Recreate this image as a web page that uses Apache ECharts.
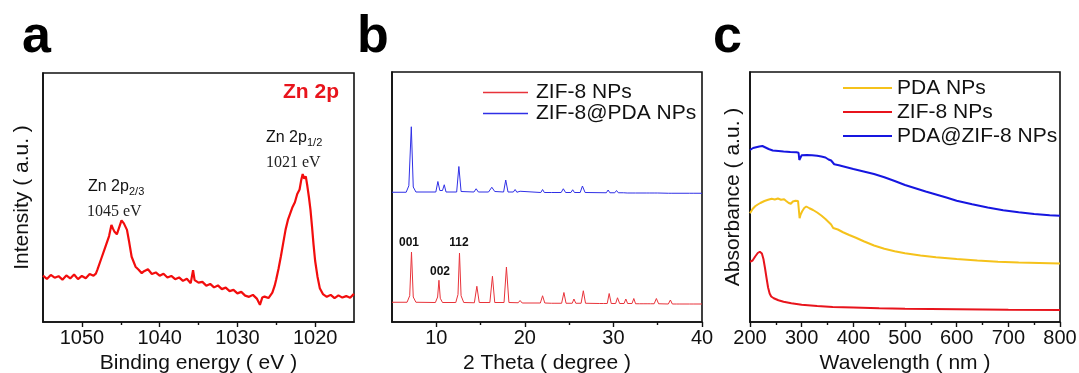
<!DOCTYPE html>
<html>
<head>
<meta charset="utf-8">
<title>Zn 2p / XRD / UV-vis</title>
<script src="https://cdn.jsdelivr.net/npm/echarts@6/dist/echarts.min.js"></script>
<style>
  html, body { margin: 0; padding: 0; background: #fff; }
  #wrap { position: relative; width: 1079px; height: 373px; }
  .panel { position: absolute; top: 0; height: 373px; }
  #pa { left: 0; width: 360px; }
  #pb { left: 360px; width: 366px; }
  #pc { left: 710px; width: 369px; }
</style>
</head>
<body>
<div id="wrap">
  <div id="pa" class="panel"></div>
  <div id="pb" class="panel"></div>
  <div id="pc" class="panel"></div>
</div>
<script>
// ---- data: (a) XPS Zn 2p, [binding energy eV, intensity a.u.]
const xpsTicks = [1020, 1030, 1040, 1050];
const xpsMinor = [1025, 1035, 1045];
const znSpectrum = [
  [1055, 18.6], [1054.5, 17.3], [1054, 18.9], [1053.5, 17.8], [1053, 18.4], [1052.5, 17.0],
  [1052, 18.7], [1051.5, 17.5], [1051, 19.1], [1050.5, 17.2], [1050, 18.5], [1049.5, 17.6],
  [1049, 19.3], [1048.5, 18.6], [1048.2, 19.4], [1048, 21.0], [1047.5, 25.5], [1047, 30.0],
  [1046.5, 34.5], [1046.2, 39.0], [1046, 37.5], [1045.8, 36.2], [1045.5, 35.2], [1045.2, 38.0],
  [1044.9, 40.8], [1044.6, 39.6], [1044.2, 37.0], [1043.9, 31.8], [1043.6, 26.2], [1043.1, 22.2],
  [1042.7, 21.0], [1042.3, 19.6], [1042, 20.4], [1041.5, 21.2], [1041, 19.3], [1040.5, 19.9],
  [1040, 18.6], [1039.5, 19.4], [1039, 17.9], [1038.5, 18.5], [1038, 17.2], [1037.5, 17.9],
  [1037, 16.5], [1036.5, 17.4], [1036, 15.6], [1035.7, 20.8], [1035.5, 16.8], [1035, 15.8],
  [1034.5, 16.1], [1034, 14.6], [1033.5, 15.3], [1033, 13.9], [1032.5, 14.7], [1032, 13.2],
  [1031.5, 13.8], [1031, 12.4], [1030.5, 12.9], [1030, 11.5], [1029.5, 12.1], [1029, 10.6],
  [1028.5, 10.1], [1028, 10.9], [1027.5, 9.4], [1027.1, 6.9], [1026.8, 9.8], [1026.5, 10.2],
  [1026, 9.6], [1025.5, 11.8], [1025.2, 14.6], [1025, 17.2], [1024.7, 21.5], [1024.4, 26.4],
  [1024.1, 31.8], [1023.8, 37.1], [1023.5, 41.0], [1023.2, 43.6], [1022.9, 46.2], [1022.6, 48.1],
  [1022.3, 51.4], [1022, 53.2], [1021.8, 56.8], [1021.6, 59.4], [1021.4, 57.6], [1021.2, 58.5],
  [1021, 54.6], [1020.8, 50.2], [1020.6, 45.1], [1020.4, 38.3], [1020.2, 31.0], [1020, 24.6],
  [1019.7, 18.3], [1019.4, 13.6], [1019, 11.2], [1018.5, 10.1], [1018, 10.9], [1017.5, 9.6],
  [1017, 10.7], [1016.5, 9.8], [1016, 10.4], [1015.5, 9.7], [1015, 11.3]
];

// ---- data: (b) XRD, [2 theta, intensity a.u.]
const xrdTicks = [10, 20, 30, 40];
const xrdMinor = [15, 25, 35];
const xrdNames = ['ZIF-8 NPs', 'ZIF-8@PDA NPs'];
const zifXrd = [
  [5, 7.9], [6.7, 7.9], [7.0, 10.5], [7.2, 28.0], [7.4, 10.0], [7.7, 7.9], [9.9, 7.8],
  [10.15, 10.0], [10.3, 16.7], [10.45, 9.5], [10.7, 7.8], [12.2, 7.8], [12.45, 11.0],
  [12.62, 27.6], [12.8, 10.5], [13.1, 7.8], [14.3, 7.7], [14.58, 14.3], [14.85, 7.8],
  [16.05, 7.8], [16.34, 18.3], [16.6, 7.8], [17.65, 7.8], [17.92, 22.0], [18.2, 7.8],
  [19.25, 7.7], [19.46, 8.6], [19.7, 7.6], [21.75, 7.6], [22.0, 10.5], [22.25, 7.6],
  [23.0, 7.5], [23.2, 8.0], [23.4, 7.5], [24.15, 7.5], [24.41, 11.8], [24.65, 7.5],
  [25.35, 7.5], [25.54, 9.2], [25.75, 7.5], [26.35, 7.5], [26.6, 12.5], [26.85, 7.5],
  [28.45, 7.4], [28.66, 7.9], [28.9, 7.4], [29.3, 7.4], [29.52, 11.4], [29.75, 7.4],
  [30.25, 7.4], [30.46, 9.7], [30.7, 7.4], [31.2, 7.4], [31.4, 9.2], [31.6, 7.4],
  [32.1, 7.4], [32.3, 9.4], [32.5, 7.3], [32.95, 7.3], [33.16, 7.8], [33.35, 7.3],
  [33.8, 7.3], [34.0, 7.7], [34.2, 7.3], [34.6, 7.3], [34.85, 9.4], [35.1, 7.3],
  [36.2, 7.2], [36.43, 8.8], [36.65, 7.2], [37.1, 7.2], [37.3, 7.9], [37.5, 7.2],
  [38.6, 7.2], [38.8, 7.6], [39.0, 7.2], [40, 7.2]
];
const zifPdaXrd = [
  [5, 51.9], [6.6, 51.9], [6.9, 54.5], [7.18, 78.1], [7.4, 54.0], [7.7, 52.0], [9.95, 52.0],
  [10.18, 56.2], [10.4, 52.6], [10.7, 52.6], [10.9, 54.9], [11.1, 52.0], [12.3, 52.0],
  [12.55, 62.2], [12.8, 52.2], [14.25, 52.0], [14.5, 53.3], [14.75, 52.0], [15.9, 52.0],
  [16.27, 53.9], [16.6, 52.2], [17.6, 52.0], [17.84, 56.8], [18.1, 52.0], [18.7, 52.0],
  [18.9, 53.0], [19.1, 51.9], [19.3, 51.9], [19.46, 52.3], [19.65, 51.9], [21.8, 51.8],
  [22.0, 53.0], [22.2, 51.8], [23.0, 51.8], [23.2, 52.2], [23.4, 51.8], [24.1, 51.8],
  [24.34, 53.3], [24.6, 51.8], [25.2, 51.8], [25.4, 52.9], [25.6, 51.8], [26.25, 51.8],
  [26.5, 54.4], [26.8, 51.8], [29.2, 51.7], [29.4, 52.8], [29.6, 51.7], [30.15, 51.7],
  [30.35, 52.6], [30.55, 51.7], [31.15, 51.7], [31.36, 52.4], [31.55, 51.6], [32.1, 51.6],
  [32.3, 52.4], [32.5, 51.6], [33.7, 51.6], [33.9, 52.0], [34.1, 51.6], [34.6, 51.6],
  [34.8, 52.3], [35.0, 51.6], [36.2, 51.5], [36.4, 51.9], [36.6, 51.5], [38.6, 51.5],
  [38.8, 51.8], [39.0, 51.5], [40, 51.5]
];

// ---- data: (c) UV-vis, [wavelength nm, absorbance a.u.]
const uvNames = ['PDA NPs', 'ZIF-8 NPs', 'PDA@ZIF-8 NPs'];
const pdaUv = [
  [200, 43.5], [205, 45.2], [210, 46.3], [215, 47.0], [220, 47.6], [228, 48.4], [235, 48.9],
  [242, 49.3], [248, 49.0], [254, 49.4], [260, 48.9], [266, 49.1], [270, 48.4], [275, 47.6],
  [279, 47.3], [283, 48.2], [288, 48.5], [293, 48.4], [294.5, 45.0], [296, 41.5], [298, 43.0],
  [301, 44.3], [305, 45.6], [309, 46.2], [315, 45.5], [322, 44.8], [330, 43.8], [338, 42.6],
  [346, 41.2], [352, 40.0], [357, 39.0], [361, 37.6], [364, 38.0], [370, 37.0], [380, 35.9],
  [392, 34.8], [405, 33.7], [420, 32.3], [440, 30.6], [460, 29.3], [480, 28.3], [500, 27.5],
  [530, 26.6], [560, 25.9], [600, 25.2], [640, 24.6], [680, 24.1], [720, 23.8], [760, 23.6],
  [800, 23.4]
];
const zifUv = [
  [200, 24.1], [205, 24.6], [210, 26.2], [215, 27.6], [219, 28.1], [223, 27.4], [226, 25.2],
  [229, 21.6], [232, 17.6], [235, 13.8], [238, 11.4], [241, 10.2], [246, 9.5], [255, 8.7],
  [265, 8.1], [280, 7.5], [300, 6.9], [330, 6.4], [360, 6.0], [400, 5.8], [450, 5.5],
  [500, 5.3], [550, 5.2], [600, 5.1], [650, 5.0], [700, 4.9], [800, 4.8]
];
const pdaZifUv = [
  [200, 68.8], [206, 69.6], [212, 69.9], [218, 70.2], [224, 70.4], [230, 69.8], [236, 69.2],
  [244, 68.6], [255, 68.4], [265, 68.2], [278, 68.0], [290, 67.9], [294, 67.7], [295.5, 64.8],
  [297, 65.6], [300, 66.7], [310, 66.8], [320, 66.7], [330, 66.5], [338, 66.2], [346, 65.8],
  [352, 65.0], [357, 64.6], [360, 63.8], [363, 63.1], [372, 62.7], [385, 62.0], [400, 61.2],
  [420, 60.2], [440, 59.2], [460, 57.9], [480, 56.4], [500, 54.8], [520, 53.5], [540, 52.2],
  [560, 51.0], [580, 49.8], [600, 48.5], [630, 47.1], [660, 45.8], [690, 44.7], [720, 43.9],
  [750, 43.2], [780, 42.7], [800, 42.5]
];

const FONT = '"Liberation Sans", Arial, sans-serif';
const SERIF = '"Liberation Serif", "Times New Roman", serif';
const INK = '#111';

// frame + axis helpers
function frameGrid(left, top, width, height) {
  return { left, top, width, height, show: true, borderColor: INK, borderWidth: 1.6, outerBoundsMode: 'none' };
}

const plainNum = (v) => String(v);

function mainX(min, max, ticks, name, extra) {
  return Object.assign({
    type: 'value', min, max,
    name, nameLocation: 'middle', nameGap: 24,
    nameTextStyle: { fontSize: 21, color: INK, fontFamily: FONT },
    axisLine: { onZero: false, lineStyle: { color: INK, width: 1.6 } },
    axisTick: { inside: false, length: 5, customValues: ticks, lineStyle: { color: INK, width: 1.4 } },
    axisLabel: { customValues: ticks, formatter: plainNum, fontSize: 20, color: INK, fontFamily: FONT, margin: 6 },
    splitLine: { show: false }
  }, extra || {});
}

function minorX(min, max, ticks, extra) {
  return Object.assign({
    type: 'value', min, max, position: 'bottom',
    axisLine: { show: false },
    axisTick: { inside: false, length: 3, customValues: ticks, lineStyle: { color: INK, width: 1.4 } },
    axisLabel: { show: false },
    splitLine: { show: false }
  }, extra || {});
}

function plainY(name, gap) {
  return {
    type: 'value', min: 0, max: 100,
    name, nameLocation: 'middle', nameGap: gap,
    nameTextStyle: { fontSize: 21, color: INK, fontFamily: FONT },
    axisLine: { onZero: false, lineStyle: { color: INK, width: 1.6 } },
    axisTick: { show: false },
    axisLabel: { show: false },
    splitLine: { show: false }
  };
}

function letter(ch, x) {
  return { type: 'text', x, y: 38, style: { text: ch, font: 'bold 52px ' + FONT, fill: '#000', verticalAlign: 'middle', textVerticalAlign: 'middle' } };
}

function label(text, x, y, font, fill, align) {
  return { type: 'text', x, y, style: { text, font, fill, align: align || 'left', textAlign: align || 'left', verticalAlign: 'middle', textVerticalAlign: 'middle' } };
}

function lineSeries(name, data, color, width, xAxisIndex) {
  return {
    name, type: 'line', data, xAxisIndex: xAxisIndex || 0,
    symbol: 'none', showSymbol: false,
    lineStyle: { color, width }, itemStyle: { color },
    silent: true
  };
}

// (a) XPS
const chartA = echarts.init(document.getElementById('pa'));
chartA.setOption({
  animation: false,
  textStyle: { fontFamily: FONT },
  grid: frameGrid(43, 73, 311, 249),
  xAxis: [
    mainX(1015, 1055, xpsTicks, 'Binding energy ( eV )', { inverse: true }),
    minorX(1015, 1055, xpsMinor, { inverse: true })
  ],
  yAxis: plainY('Intensity ( a.u. )', 10),
  series: [lineSeries('Zn 2p', znSpectrum, '#f20d0d', 2.2)],
  graphic: [
    letter('a', 22),
    label('Zn 2p', 283, 92, 'bold 21px ' + FONT, '#e8141c'),
    label('Zn 2p', 266, 138, '16px ' + FONT, INK),
    label('1/2', 307, 143, '11px ' + FONT, INK),
    label('1021 eV', 266, 163, '16px ' + SERIF, '#222'),
    label('Zn 2p', 88, 187, '16px ' + FONT, INK),
    label('2/3', 129, 192, '11px ' + FONT, INK),
    label('1045 eV', 87, 212, '16px ' + SERIF, '#222')
  ]
});

// (b) XRD
const chartB = echarts.init(document.getElementById('pb'));
chartB.setOption({
  animation: false,
  textStyle: { fontFamily: FONT },
  grid: frameGrid(32, 72, 310, 250),
  legend: {
    data: xrdNames, orient: 'vertical', left: 118, top: 77,
    icon: 'rect', itemWidth: 45, itemHeight: 1.4, itemGap: 0,
    textStyle: { fontSize: 21, lineHeight: 21, color: INK, fontFamily: FONT, padding: [0, 0, 0, 3] }
  },
  xAxis: [
    mainX(5, 40, xrdTicks, '2 Theta ( degree )'),
    minorX(5, 40, xrdMinor)
  ],
  yAxis: plainY('', 10),
  series: [
    lineSeries(xrdNames[0], zifXrd, '#e8333a', 1),
    lineSeries(xrdNames[1], zifPdaXrd, '#2f2fe6', 1)
  ],
  graphic: [
    letter('b', -3),
    label('001', 49, 243, 'bold 12px ' + FONT, INK, 'center'),
    label('002', 80, 272, 'bold 12px ' + FONT, INK, 'center'),
    label('112', 99, 243, 'bold 12px ' + FONT, INK, 'center')
  ]
});

// (c) UV-vis
const chartC = echarts.init(document.getElementById('pc'));
chartC.setOption({
  animation: false,
  textStyle: { fontFamily: FONT },
  grid: frameGrid(40, 72, 310, 250),
  legend: {
    data: uvNames, orient: 'vertical', left: 128, top: 71,
    icon: 'rect', itemWidth: 49, itemHeight: 2.2, itemGap: 0,
    textStyle: { fontSize: 21, lineHeight: 24, color: INK, fontFamily: FONT }
  },
  xAxis: mainX(200, 800, null, 'Wavelength ( nm )', {
    interval: 100,
    axisTick: { inside: false, length: 5, lineStyle: { color: INK, width: 1.4 } },
    axisLabel: { formatter: plainNum, fontSize: 20, color: INK, fontFamily: FONT, margin: 6 },
    minorTick: { show: true, splitNumber: 2, length: 3, lineStyle: { color: INK, width: 1.4 } }
  }),
  yAxis: plainY('Absorbance ( a.u. )', 6),
  series: [
    lineSeries(uvNames[0], pdaUv, '#f5c21b', 2),
    lineSeries(uvNames[1], zifUv, '#e8141c', 2),
    lineSeries(uvNames[2], pdaZifUv, '#1616e0', 2)
  ],
  graphic: [letter('c', 3)]
});
</script>
</body>
</html>
